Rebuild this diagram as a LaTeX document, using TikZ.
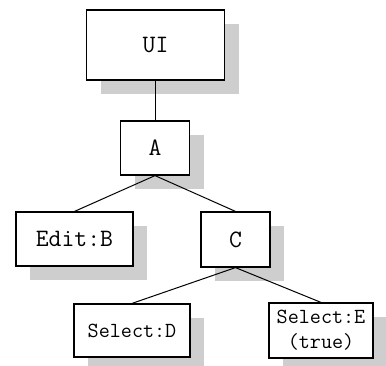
\documentclass[tikz,border=0pt]{standalone}
\usetikzlibrary{shadows}

\definecolor{shadowgray}{RGB}{206,206,206}

\tikzset{
  objbox/.style={draw, line width=1.2pt, fill=white, inner sep=0pt,
    font=\ttfamily\fontsize{25}{28}\selectfont, align=center,
    drop shadow={shadow xshift=14pt, shadow yshift=-14pt,
      fill=shadowgray, opacity=1}},
  smallbox/.style={objbox, font=\ttfamily\fontsize{21.5}{25}\selectfont},
  link/.style={line width=1pt}
}

\begin{document}
\begin{tikzpicture}[x=1pt, y=-1pt]
    \useasboundingbox (0,0) rectangle (386,365);

    % Boxes
    \node[objbox, minimum width=138pt, minimum height=70pt] (ui) at (155.5,45) {UI};
    \node[objbox, minimum width=69pt, minimum height=54pt] (a) at (155,148) {A};
    \node[objbox, minimum width=117pt, minimum height=54pt] (b) at (74.5,239) {Edit:B};
    \node[objbox, minimum width=69pt, minimum height=55pt] (c) at (235.5,239.5) {C};
    \node[smallbox, minimum width=116pt, minimum height=53pt] (d) at (132,330.5) {Select:D};
    \node[smallbox, minimum width=104pt, minimum height=55pt] (e) at (321,330.5) {Select:E\\(true)};

    % Links
    \draw[link] (ui.south) -- (ui.south |- a.north);
    \draw[link] (a.south) -- (b.north);
    \draw[link] (a.south) -- (c.north);
    \draw[link] (c.south) -- (d.north);
    \draw[link] (c.south) -- (e.north);
\end{tikzpicture}
\end{document}
